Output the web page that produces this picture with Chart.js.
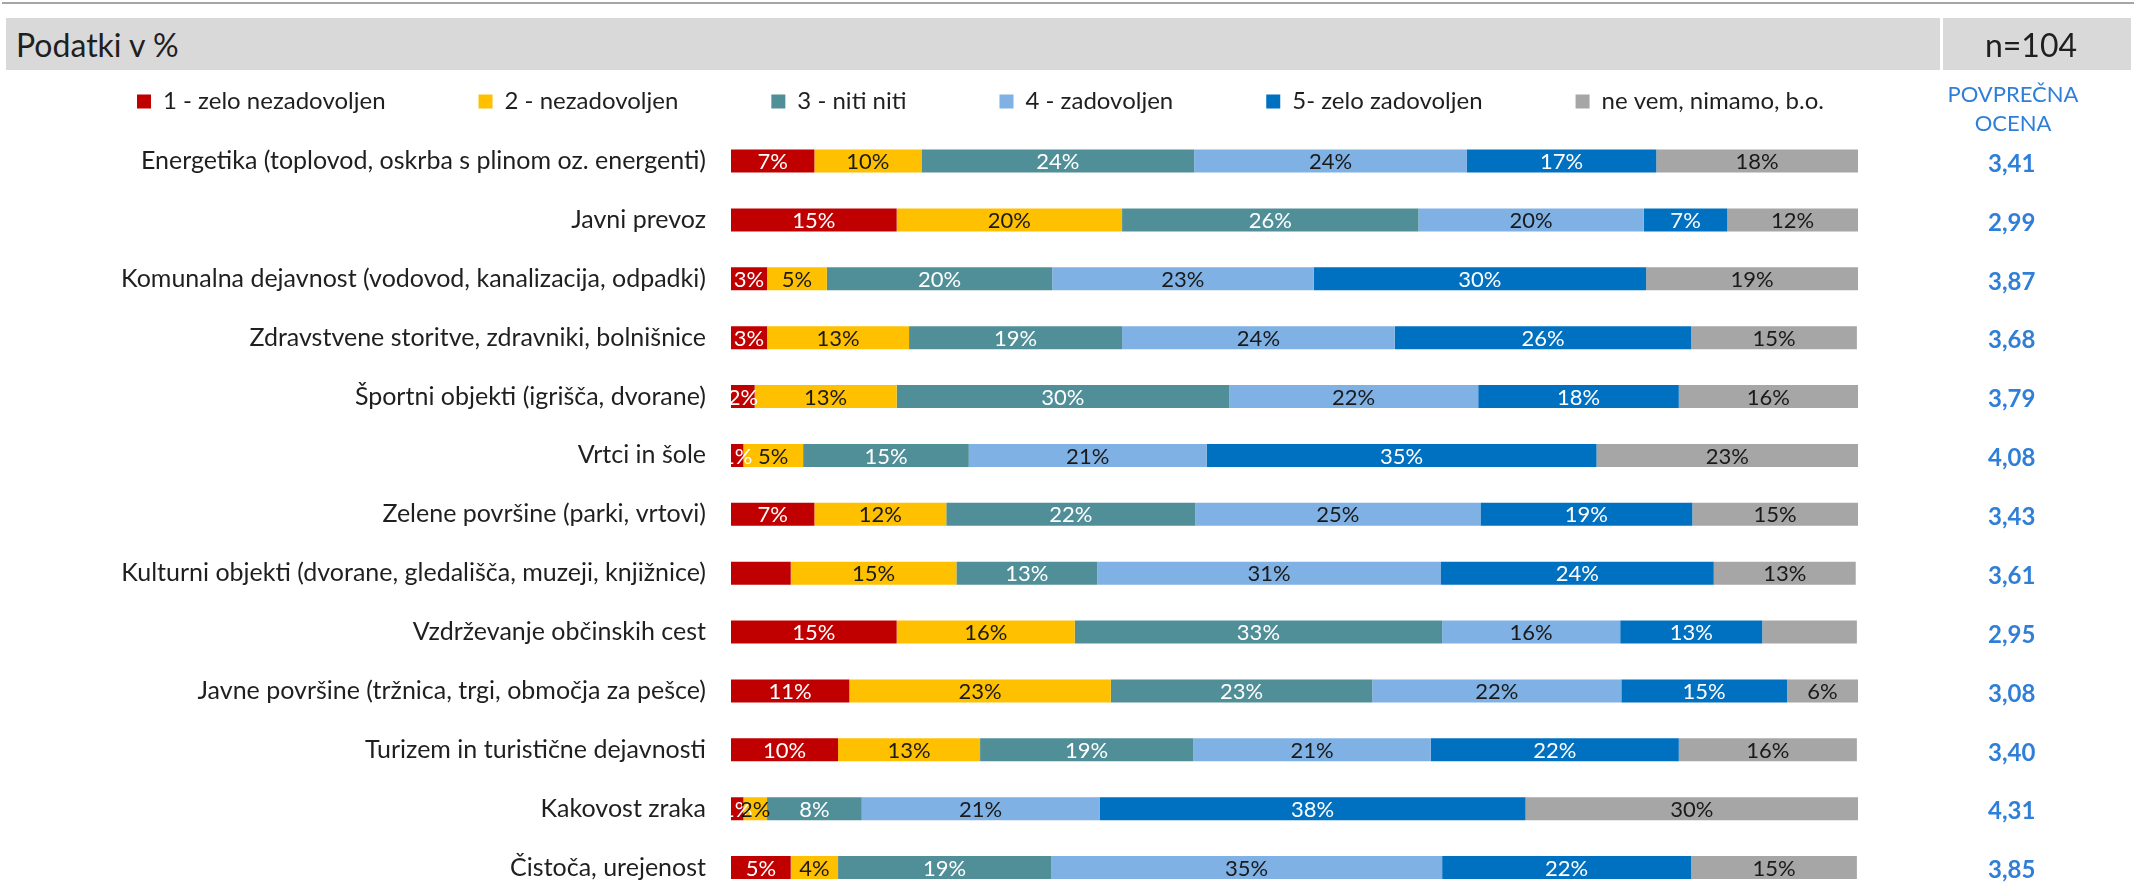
<!DOCTYPE html>
<html lang="sl">
<head>
<meta charset="UTF-8" />
<title>Podatki v %</title>

<!-- Chart.js CDN -->
<script src="https://cdn.jsdelivr.net/npm/chart.js"></script>

<style>
  html, body { margin:0; padding:0; background:#fff; overflow:hidden; }
  body { width:2134px; height:889px; position:relative;
         font-family: Lato, "Open Sans", sans-serif; color:#1f1f1f; }
  .rule { position:absolute; left:2px; right:0; top:2px; height:2px; background:#a6a6a6; }
  .band { position:absolute; top:18px; height:52px; background:#d9d9d9; z-index:2;
          display:flex; align-items:center; font-size:32px; box-sizing:border-box; }
  #bandLeft  { left:6px; width:1934px; padding-left:10px; }
  #bandRight { left:1943px; width:188px; justify-content:center; padding-right:12px; }
  #avgHead { position:absolute; left:1940px; width:146px; top:79px; z-index:2;
             text-align:center; color:#2f7fd8; font-size:22px; line-height:29px; }
  #chart { position:absolute; left:0; top:-10px; }
</style>
</head>

<body>
  <div class="rule"></div>
  <div class="band" id="bandLeft">Podatki v %</div>
  <div class="band" id="bandRight">n=104</div>
  <div id="avgHead">POVPREČNA<br>OCENA</div>

  <canvas id="chart" width="2134" height="907"></canvas>

<script>
// data -------------------------------------------------------
const categories = [
  'Energetika (toplovod, oskrba s plinom oz. energenti)',
  'Javni prevoz',
  'Komunalna dejavnost (vodovod, kanalizacija, odpadki)',
  'Zdravstvene storitve, zdravniki, bolnišnice',
  'Športni objekti (igrišča, dvorane)',
  'Vrtci in šole',
  'Zelene površine (parki, vrtovi)',
  'Kulturni objekti (dvorane, gledališča, muzeji, knjižnice)',
  'Vzdrževanje občinskih cest',
  'Javne površine (tržnica, trgi, območja za pešce)',
  'Turizem in turistične dejavnosti',
  'Kakovost zraka',
  'Čistoča, urejenost'
];

const seriesNames = ['1 - zelo nezadovoljen', '2 - nezadovoljen', '3 - niti niti',
                     '4 - zadovoljen', '5- zelo zadovoljen', 'ne vem, nimamo, b.o.'];

// shares in %
const score1   = [7.4, 14.7, 3.2, 3.2, 2.1, 1.1, 7.4, 5.3, 14.7, 10.5, 9.5, 1.1, 5.3];
const score2   = [9.5, 20.0, 5.3, 12.6, 12.6, 5.3, 11.7, 14.7, 15.8, 23.2, 12.6, 2.1, 4.2];
const score3   = [24.2, 26.3, 20.0, 18.9, 29.5, 14.7, 22.1, 12.5, 32.6, 23.2, 18.9, 8.4, 18.9];
const score4   = [24.2, 20.0, 23.2, 24.2, 22.1, 21.1, 25.3, 30.5, 15.8, 22.1, 21.1, 21.1, 34.7];
const score5   = [16.8, 7.4, 29.5, 26.3, 17.8, 34.6, 18.8, 24.2, 12.6, 14.7, 22.0, 37.8, 22.1];
const dontKnow = [17.9, 11.6, 18.8, 14.7, 15.9, 23.2, 14.7, 12.6, 8.4, 6.3, 15.8, 29.5, 14.7];

const avgScore = [3.41, 2.99, 3.87, 3.68, 3.79, 4.08, 3.43, 3.61, 2.95, 3.08, 3.40, 4.31, 3.85];

// labels not shown in the original: [dataset, row]
const hiddenLabels = [[0, 7], [5, 8]];

// styles -----------------------------------------------------
const seriesData   = [score1, score2, score3, score4, score5, dontKnow];
const seriesColors = ['#c00000', '#ffc000', '#508f98', '#7fb1e4', '#0070c0', '#a6a6a6'];
const labelColors  = ['#ffffff', '#1a1a1a', '#ffffff', '#1a1a1a', '#ffffff', '#1a1a1a'];
const fontFamily   = 'Lato, "Open Sans", sans-serif';

// percentage labels inside the bars ---------------------------
const barLabels = {
  id: 'barLabels',
  afterDatasetsDraw(chart) {
    const {ctx, chartArea} = chart;
    ctx.save();
    ctx.beginPath();
    ctx.rect(chartArea.left, chartArea.top, chartArea.width, chartArea.height);
    ctx.clip();
    ctx.font = `22px ${fontFamily}`;
    ctx.textAlign = 'center';
    ctx.textBaseline = 'middle';
    chart.data.datasets.forEach((ds, di) => {
      chart.getDatasetMeta(di).data.forEach((bar, i) => {
        if (hiddenLabels.some(h => h[0] === di && h[1] === i)) return;
        ctx.fillStyle = labelColors[di];
        ctx.fillText(Math.round(ds.data[i]) + '%', (bar.x + bar.base) / 2, bar.y + 1);
      });
    });
    ctx.restore();
  }
};

// legend sits a bit higher above the bars than chart.js puts it
const legendNudge = {
  id: 'legendNudge',
  afterLayout(chart) {
    chart.legend.top -= 8;
    chart.legend.bottom -= 8;
  }
};

new Chart(document.getElementById('chart'), {
  type: 'bar',
  data: {
    labels: categories,
    datasets: seriesNames.map((name, i) => ({
      label: name,
      data: seriesData[i],
      backgroundColor: seriesColors[i],
      borderWidth: 0,
      barPercentage: 0.39,
      categoryPercentage: 1,
      yAxisID: 'y'
    }))
  },
  options: {
    indexAxis: 'y',
    responsive: false,
    animation: false,
    layout: { padding: { left: 44, right: 0, top: 0, bottom: 0 } },
    plugins: {
      legend: {
        position: 'top', align: 'start',
        labels: { boxWidth: 14, boxHeight: 14, padding: 93, color: '#1f1f1f',
                  font: { family: fontFamily, size: 24 } }
      },
      tooltip: { enabled: false }
    },
    scales: {
      x: { stacked: true, min: 0, max: 100, display: false },
      y: {
        stacked: true, position: 'left',
        grid: { display: false, drawTicks: false }, border: { display: false },
        ticks: { padding: 25, color: '#1f1f1f', font: { family: fontFamily, size: 25 } },
        afterFit(s) { s.width = 687; s.paddingTop = 141.6; s.paddingBottom = 0; }
      },
      y2: {
        type: 'category', position: 'right', offset: true,
        labels: avgScore.map(v => v.toFixed(2).replace('.', ',')),
        grid: { display: false, drawTicks: false }, border: { display: false },
        ticks: { padding: 130, crossAlign: 'center', labelOffset: 3, color: '#2f7fd8',
                 font: { family: fontFamily, size: 24, weight: 'bold' } },
        afterFit(s) { s.width = 276; s.paddingTop = 0; s.paddingBottom = 0; }
      }
    }
  },
  plugins: [barLabels, legendNudge]
});
</script>
</body>
</html>
